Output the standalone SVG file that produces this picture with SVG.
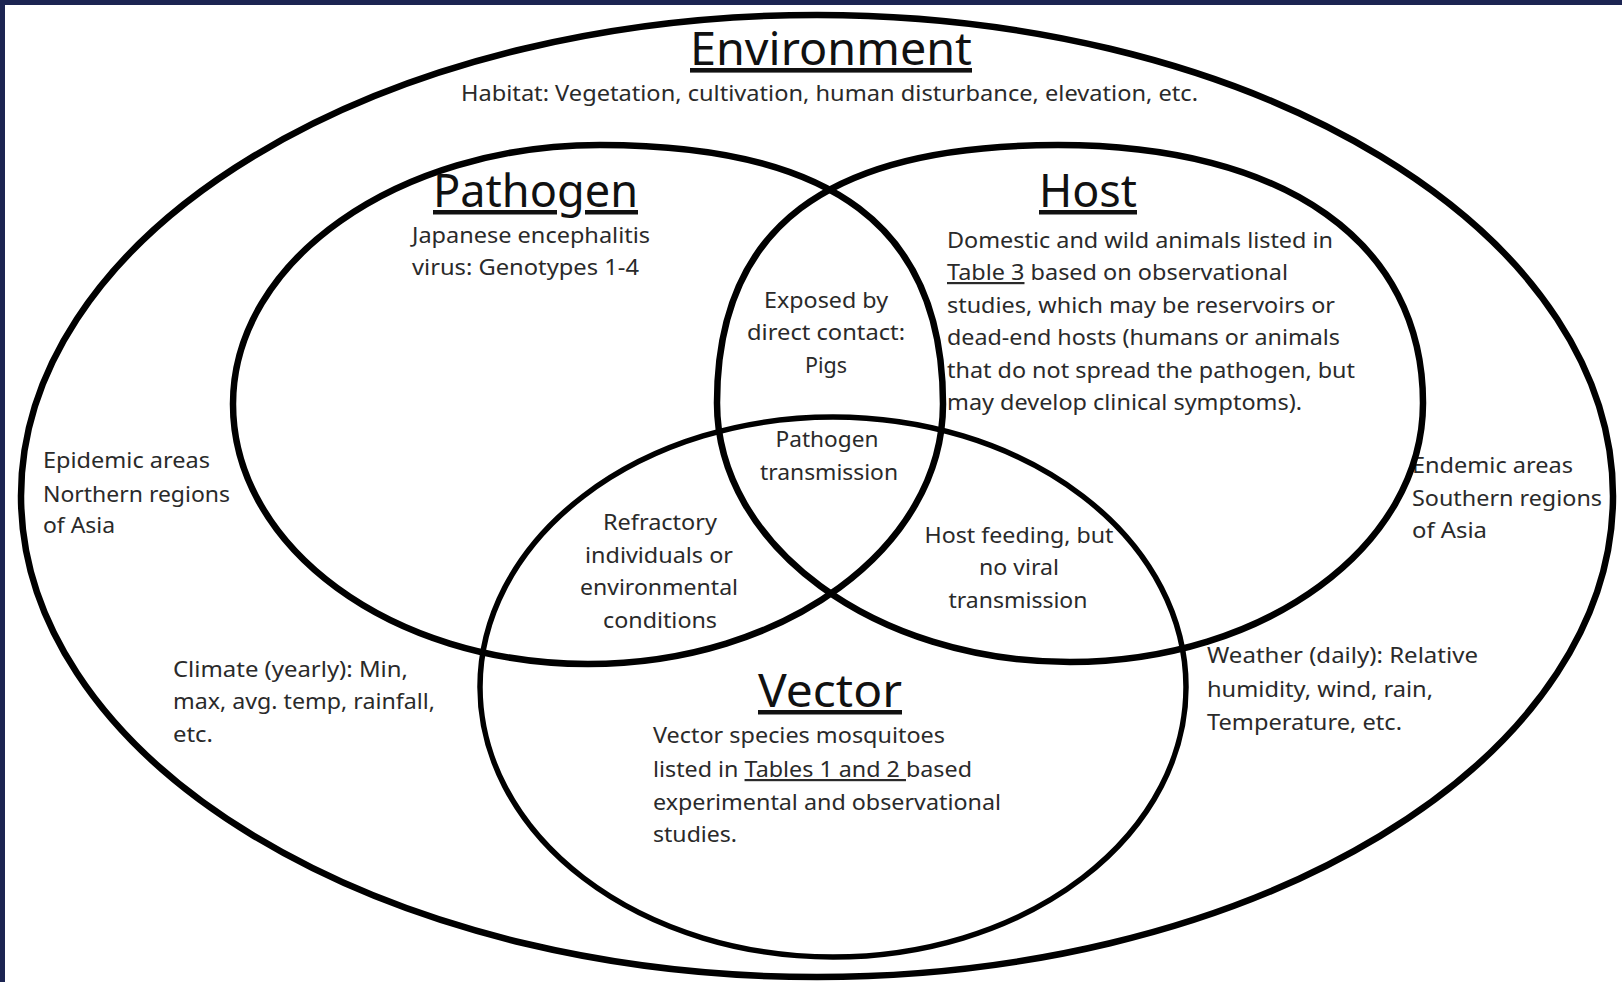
<svg xmlns="http://www.w3.org/2000/svg" width="1622" height="982" viewBox="0 0 1622 982">
<style>
.ring{fill:none;stroke:#000;stroke-width:6.5}
.thin{fill:none;stroke:#000;stroke-width:5.5}
.title{font-family:"Noto Sans","Open Sans",sans-serif;font-size:45px;fill:#111;text-decoration:underline}
.body{font-family:"Noto Sans","Open Sans",sans-serif;font-size:22px;fill:#2a2a2a}
.c{text-anchor:middle}
.u{text-decoration:underline}
</style>
<rect x="0" y="0" width="1622" height="982" fill="#1c2452"/>
<rect x="5" y="5" width="1617" height="977" fill="#fff"/>

<g id="environment">
  <ellipse class="ring" cx="817" cy="496" rx="796" ry="481"/>
  <text class="title" x="690" y="65" textLength="282" lengthAdjust="spacingAndGlyphs" style="font-size:46px">Environment</text>
  <text class="body" x="461" y="101" textLength="737" lengthAdjust="spacingAndGlyphs">Habitat: Vegetation, cultivation, human disturbance, elevation, etc.</text>
  <g id="epidemic">
    <text class="body" x="43" y="468" textLength="167" lengthAdjust="spacingAndGlyphs">Epidemic areas</text>
    <text class="body" x="43" y="502" textLength="187" lengthAdjust="spacingAndGlyphs">Northern regions</text>
    <text class="body" x="43" y="533" textLength="72" lengthAdjust="spacingAndGlyphs">of Asia</text>
  </g>
  <g id="climate">
    <text class="body" x="173" y="677" textLength="235" lengthAdjust="spacingAndGlyphs">Climate (yearly): Min,</text>
    <text class="body" x="173" y="709" textLength="262" lengthAdjust="spacingAndGlyphs">max, avg. temp, rainfall,</text>
    <text class="body" x="173" y="742" textLength="40" lengthAdjust="spacingAndGlyphs">etc.</text>
  </g>
  <g id="endemic">
    <text class="body" x="1412" y="473" textLength="161" lengthAdjust="spacingAndGlyphs">Endemic areas</text>
    <text class="body" x="1412" y="506" textLength="190" lengthAdjust="spacingAndGlyphs">Southern regions</text>
    <text class="body" x="1412" y="538" textLength="75" lengthAdjust="spacingAndGlyphs">of Asia</text>
  </g>
  <g id="weather">
    <text class="body" x="1207" y="663" textLength="271" lengthAdjust="spacingAndGlyphs">Weather (daily): Relative</text>
    <text class="body" x="1207" y="697" textLength="226" lengthAdjust="spacingAndGlyphs">humidity, wind, rain,</text>
    <text class="body" x="1207" y="730" textLength="195" lengthAdjust="spacingAndGlyphs">Temperature, etc.</text>
  </g>
</g>

<g id="pathogen">
  <path class="ring" d="M233,404 C233,260.9 397.3,145 600,145 C833.2,145 943,227.9 943,404 C943,547.6 784.1,664 588,664 C391.9,664 233,547.6 233,404 Z"/>
  <text class="title" x="433" y="207" textLength="205" lengthAdjust="spacingAndGlyphs">Pathogen</text>
  <text class="body" x="412" y="243" textLength="238" lengthAdjust="spacingAndGlyphs">Japanese encephalitis</text>
  <text class="body" x="412" y="275" textLength="227" lengthAdjust="spacingAndGlyphs">virus: Genotypes 1-4</text>
</g>

<g id="host">
  <path class="ring" d="M717,403 C717,227.6 826.1,145 1058,145 C1286,145 1423,243 1423,403 C1423,546 1265,662 1070,662 C875,662 717,546 717,403 Z"/>
  <text class="title" x="1039" y="207" textLength="98" lengthAdjust="spacingAndGlyphs">Host</text>
  <text class="body" x="947" y="248" textLength="386" lengthAdjust="spacingAndGlyphs">Domestic and wild animals listed in</text>
  <text class="body" x="947" y="280" textLength="341" lengthAdjust="spacingAndGlyphs"><tspan class="u">Table 3</tspan> based on observational</text>
  <text class="body" x="947" y="313" textLength="388" lengthAdjust="spacingAndGlyphs">studies, which may be reservoirs or</text>
  <text class="body" x="947" y="345" textLength="393" lengthAdjust="spacingAndGlyphs">dead-end hosts (humans or animals</text>
  <text class="body" x="947" y="378" textLength="408" lengthAdjust="spacingAndGlyphs">that do not spread the pathogen, but</text>
  <text class="body" x="947" y="410" textLength="355" lengthAdjust="spacingAndGlyphs">may develop clinical symptoms).</text>
</g>

<g id="vector">
  <ellipse class="thin" cx="833" cy="687" rx="353" ry="270"/>
  <text class="title" x="758" y="707" textLength="144" lengthAdjust="spacingAndGlyphs">Vector</text>
  <text class="body" x="653" y="743" textLength="292" lengthAdjust="spacingAndGlyphs">Vector species mosquitoes</text>
  <text class="body" x="653" y="777" textLength="319" lengthAdjust="spacingAndGlyphs">listed in <tspan class="u">Tables 1 and 2 </tspan>based</text>
  <text class="body" x="653" y="810" textLength="348" lengthAdjust="spacingAndGlyphs">experimental and observational</text>
  <text class="body" x="653" y="842" textLength="84" lengthAdjust="spacingAndGlyphs">studies.</text>
</g>

<g id="pathogen-host">
  <text class="body c" x="826" y="308" textLength="124" lengthAdjust="spacingAndGlyphs">Exposed by</text>
  <text class="body c" x="826" y="340" textLength="158" lengthAdjust="spacingAndGlyphs">direct contact:</text>
  <text class="body c" x="826" y="373" textLength="42" lengthAdjust="spacingAndGlyphs">Pigs</text>
</g>
<g id="pathogen-host-vector">
  <text class="body c" x="827" y="447" textLength="103" lengthAdjust="spacingAndGlyphs">Pathogen</text>
  <text class="body c" x="829" y="480" textLength="138" lengthAdjust="spacingAndGlyphs">transmission</text>
</g>
<g id="pathogen-vector">
  <text class="body c" x="660" y="530" textLength="114" lengthAdjust="spacingAndGlyphs">Refractory</text>
  <text class="body c" x="659" y="563" textLength="148" lengthAdjust="spacingAndGlyphs">individuals or</text>
  <text class="body c" x="659" y="595" textLength="158" lengthAdjust="spacingAndGlyphs">environmental</text>
  <text class="body c" x="660" y="628" textLength="114" lengthAdjust="spacingAndGlyphs">conditions</text>
</g>
<g id="host-vector">
  <text class="body c" x="1019" y="543" textLength="189" lengthAdjust="spacingAndGlyphs">Host feeding, but</text>
  <text class="body c" x="1019" y="575" textLength="80" lengthAdjust="spacingAndGlyphs">no viral</text>
  <text class="body c" x="1018" y="608" textLength="139" lengthAdjust="spacingAndGlyphs">transmission</text>
</g>
</svg>
